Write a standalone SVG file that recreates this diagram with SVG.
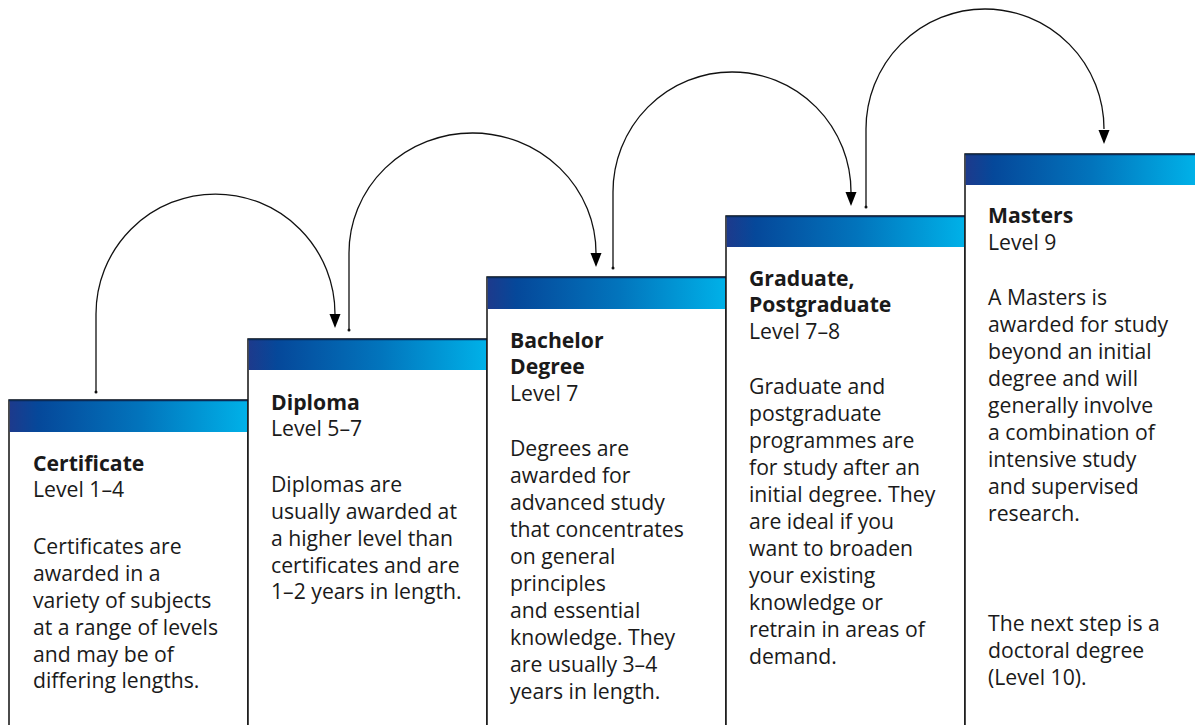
<svg xmlns="http://www.w3.org/2000/svg" width="1195" height="725" viewBox="0 0 1195 725">
<defs>
<linearGradient id="hdr" x1="0" y1="0" x2="1" y2="0">
<stop offset="0" stop-color="#1d3a8c"/>
<stop offset="0.12" stop-color="#05489a"/>
<stop offset="0.55" stop-color="#0274bc"/>
<stop offset="1" stop-color="#00b1e8"/>
</linearGradient>
<style>
.box{fill:#ffffff;stroke:#111111;stroke-width:1.5}
.hdr{fill:url(#hdr)}
.hline{stroke:#0b2a55;stroke-width:1.5}
text{font-family:"Open Sans","Noto Sans","Liberation Sans",sans-serif;font-size:21.2px;fill:#1a1a1a}
.t{font-weight:700}
.conn{fill:none;stroke:#111111;stroke-width:1.3}
.head{fill:#000000}
.dot{fill:#111111}
</style>
</defs>
<rect width="1195" height="725" fill="#ffffff"/>

<g id="connectors">
<path class="conn" d="M96,392 V314 A119.5,120 0 0 1 335,314"/>
<polygon class="head" points="329.5,314 340.5,314 335,328"/>
<circle class="dot" cx="96" cy="392" r="1.5"/>
<path class="conn" d="M349,330 V253 A123.5,120 0 0 1 596,253"/>
<polygon class="head" points="590.5,253 601.5,253 596,267"/>
<circle class="dot" cx="349" cy="330" r="1.5"/>
<path class="conn" d="M613,268 V192 A119,120 0 0 1 851,192"/>
<polygon class="head" points="845.5,192 856.5,192 851,206"/>
<circle class="dot" cx="613" cy="268" r="1.5"/>
<path class="conn" d="M866,207 V129 A119,120 0 0 1 1104,129"/>
<polygon class="head" points="1098.5,130 1109.5,130 1104,144"/>
<circle class="dot" cx="866" cy="207" r="1.5"/>
</g>

<g id="certificate">
<rect class="box" x="9" y="400" width="239" height="340"/>
<rect class="hdr" x="9.75" y="400" width="237.5" height="32"/>
<line class="hline" x1="9" y1="400.5" x2="248" y2="400.5"/>
<text x="33" y="471" class="t">Certificate</text>
<text x="33" y="497">Level 1–4</text>
<text x="33" y="554">Certificates are</text>
<text x="33" y="581">awarded in a</text>
<text x="33" y="608">variety of subjects</text>
<text x="33" y="635">at a range of levels</text>
<text x="33" y="662">and may be of</text>
<text x="33" y="688">differing lengths.</text>
</g>

<g id="diploma">
<rect class="box" x="248" y="339" width="239" height="400"/>
<rect class="hdr" x="248.75" y="339" width="237.5" height="31"/>
<line class="hline" x1="248" y1="339.5" x2="487" y2="339.5"/>
<text x="271" y="410" class="t">Diploma</text>
<text x="271" y="436">Level 5–7</text>
<text x="271" y="492">Diplomas are</text>
<text x="271" y="519">usually awarded at</text>
<text x="271" y="546">a higher level than</text>
<text x="271" y="573">certificates and are</text>
<text x="271" y="599">1–2 years in length.</text>
</g>

<g id="bachelor">
<rect class="box" x="487" y="277" width="239" height="460"/>
<rect class="hdr" x="487.75" y="277" width="237.5" height="32"/>
<line class="hline" x1="487" y1="277.5" x2="726" y2="277.5"/>
<text x="510" y="348" class="t">Bachelor</text>
<text x="510" y="374" class="t">Degree</text>
<text x="510" y="401">Level 7</text>
<text x="510" y="456">Degrees are</text>
<text x="510" y="483">awarded for</text>
<text x="510" y="510">advanced study</text>
<text x="510" y="537">that concentrates</text>
<text x="510" y="564">on general</text>
<text x="510" y="591">principles</text>
<text x="510" y="618">and essential</text>
<text x="510" y="645">knowledge. They</text>
<text x="510" y="672">are usually 3–4</text>
<text x="510" y="699">years in length.</text>
</g>

<g id="graduate">
<rect class="box" x="726" y="216" width="239" height="520"/>
<rect class="hdr" x="726.75" y="216" width="237.5" height="31"/>
<line class="hline" x1="726" y1="216.5" x2="965" y2="216.5"/>
<text x="749" y="286" class="t">Graduate,</text>
<text x="749" y="312" class="t">Postgraduate</text>
<text x="749" y="339">Level 7–8</text>
<text x="749" y="394">Graduate and</text>
<text x="749" y="421">postgraduate</text>
<text x="749" y="448">programmes are</text>
<text x="749" y="475">for study after an</text>
<text x="749" y="502">initial degree. They</text>
<text x="749" y="529">are ideal if you</text>
<text x="749" y="556">want to broaden</text>
<text x="749" y="583">your existing</text>
<text x="749" y="610">knowledge or</text>
<text x="749" y="637">retrain in areas of</text>
<text x="749" y="664">demand.</text>
</g>

<g id="masters">
<rect class="box" x="965" y="154" width="240" height="590"/>
<rect class="hdr" x="965.75" y="154" width="229.25" height="31"/>
<line class="hline" x1="965" y1="154.5" x2="1195" y2="154.5"/>
<text x="988" y="223" class="t">Masters</text>
<text x="988" y="250">Level 9</text>
<text x="988" y="305">A Masters is</text>
<text x="988" y="332">awarded for study</text>
<text x="988" y="359">beyond an initial</text>
<text x="988" y="386">degree and will</text>
<text x="988" y="413">generally involve</text>
<text x="988" y="440">a combination of</text>
<text x="988" y="467">intensive study</text>
<text x="988" y="494">and supervised</text>
<text x="988" y="521">research.</text>
<text x="988" y="631">The next step is a</text>
<text x="988" y="658">doctoral degree</text>
<text x="988" y="685">(Level 10).</text>
</g>
</svg>
